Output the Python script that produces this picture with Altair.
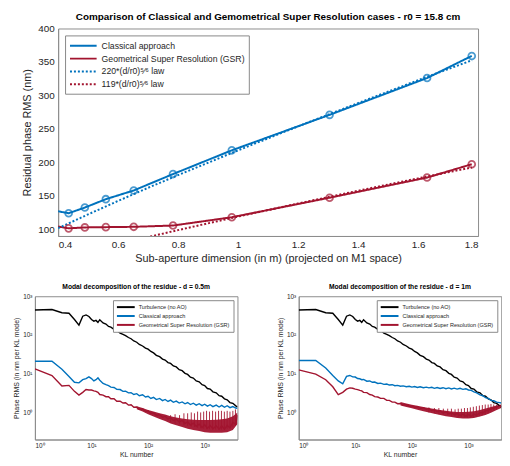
import altair as alt
import pandas as pd

FONT = "Liberation Sans"
BLUE = "#0072BD"
RED = "#A2142F"
BLACK = "#000000"
INK = "#262626"
FRAME = "#8c8c8c"

# ---------------- top panel data ----------------
top_series = ["Classical approach", "Geometrical Super Resolution (GSR)",
              "220*(d/r0)\u2075\u2044\u2076 law", "119*(d/r0)\u2075\u2044\u2076 law"]
sub_ap = [0.35, 0.435, 0.489, 0.559, 0.652, 0.783, 0.979, 1.305, 1.63, 1.779]
rms_classical = [131, 124, 132.5, 145, 158, 182.5, 218, 271, 326, 359]
rms_gsr = [108, 101.4, 102.8, 103.2, 103.7, 105.6, 118, 147.2, 177.3, 197.2]
law_d = [0.4, 0.5, 0.6, 0.7, 0.8, 1.0, 1.2, 1.4, 1.6, 1.78]
law_220 = [101.6, 122.3, 142.4, 162, 181, 218, 253.8, 288.6, 322.7, 352.6]
law_119 = [55.5, 66.8, 77.7, 88.4, 98.8, 119, 138.5, 157.6, 176.1, 192.4]
x_ticks_top = [0.4, 0.6, 0.8, 1.0, 1.2, 1.4, 1.6, 1.8]
y_ticks_top = [100, 150, 200, 250, 300, 350, 400]

# ---------------- bottom panels data ----------------
bottom_series = ["Turbulence (no AO)", "Classical approach", "Geometrical Super Resolution (GSR)"]
kl = [1, 2, 3, 4, 5, 6, 7, 8, 9, 10,
      11, 12, 13, 14, 16, 18, 20, 22, 25, 28,
      32, 36, 40, 45, 50, 56, 63, 70, 80, 90,
      100, 112, 125, 140, 160, 180, 200, 225, 250, 280,
      315, 355, 400, 450, 500, 560, 630, 710, 800, 900,
      1000, 1120, 1250, 1400, 1600, 1800, 2000, 2240, 2500, 2800,
      3150, 3550, 3800]
turbulence = [440, 455, 375, 365, 250, 180, 305, 330, 300, 250,
              228, 238, 212, 248, 205, 192, 166, 160, 140, 132,
              112, 104, 96, 86, 80, 70, 65, 57, 52, 46,
              43, 37.5, 34.5, 29.8, 27.5, 23.8, 22.5, 19.4, 18.4, 15.9,
              15.0, 12.7, 12.0, 10.2, 9.6, 8.1, 7.7, 6.5, 6.2, 5.2,
              4.95, 4.15, 4.0, 3.4, 3.2, 2.7, 2.62, 2.25, 2.12, 1.8,
              1.72, 1.48, 1.38]
classical_05 = [21, 21, 13, 8.5, 6, 5.8, 7, 7.5, 8.3, 7.5,
                6.5, 7, 7.8, 6.8, 5.6, 5.2, 4.9, 4.5, 4.4, 3.95,
                3.9, 3.5, 3.55, 3.2, 3.25, 2.9, 3.05, 2.7, 2.85, 2.5,
                2.62, 2.3, 2.45, 2.15, 2.3, 2.02, 2.16, 1.92, 2.08, 1.83,
                1.96, 1.75, 1.87, 1.67, 1.8, 1.6, 1.73, 1.54, 1.68, 1.5,
                1.63, 1.45, 1.58, 1.41, 1.55, 1.38, 1.52, 1.36, 1.49, 1.33,
                1.42, 1.3, 1.27]
gsr_05 = [13.3, 9, 4.8, 5, 3.5, 2.8, 3.3, 3.9, 3.8, 3.8,
          3.6, 3.5, 3.3, 2.9, 2.8, 2.55, 2.55, 2.25, 2.25, 1.95,
          1.95, 1.75, 1.78, 1.55, 1.58, 1.36, 1.38, 1.2, 1.24, 1.06,
          1.1, 0.94, 0.98, 0.84, 0.88, 0.75, 0.8, 0.68, 0.73, 0.62,
          0.67, 0.57, 0.62, 0.52, 0.57, 0.47, 0.53, 0.44, 0.5, 0.41,
          0.48, 0.39, 0.46, 0.38, 0.45, 0.37, 0.45, 0.37, 0.46, 0.4,
          0.55, 0.5, 0.85]
classical_1 = [22, 22, 14, 9, 6.5, 5.5, 8.5, 9, 8.3, 8.2,
               7.5, 7.4, 7.0, 7.1, 6.4, 6.5, 6.0, 6.1, 5.6, 5.7,
               5.3, 5.4, 5.1, 5.2, 4.9, 5.0, 4.75, 4.85, 4.6, 4.75,
               4.5, 4.65, 4.4, 4.6, 4.35, 4.5, 4.3, 4.45, 4.2, 4.4,
               4.15, 4.35, 4.1, 4.3, 4.05, 4.25, 4.0, 4.2, 3.95, 4.1,
               3.8, 3.7, 3.4, 3.2, 2.85, 2.7, 2.4, 2.3, 2.05, 2.0,
               1.85, 1.8, 1.75]
gsr_1 = [12.6, 9.8, 7, 4.6, 2.9, 3.3, 4, 4.3, 4.2, 4.0,
         3.9, 3.7, 3.6, 3.3, 3.25, 2.9, 2.8, 2.55, 2.5, 2.3,
         2.3, 2.05, 2.05, 1.85, 1.85, 1.68, 1.7, 1.55, 1.58, 1.45,
         1.48, 1.36, 1.4, 1.28, 1.32, 1.2, 1.25, 1.12, 1.17, 1.05,
         1.1, 0.98, 1.03, 0.93, 0.98, 0.88, 0.93, 0.84, 0.9, 0.8,
         0.88, 0.8, 0.9, 0.85, 0.98, 0.98, 1.1, 1.12, 1.25, 1.3,
         1.4, 1.45, 1.45]

band_kl = [63, 80, 100, 125, 160, 200, 250, 315, 400, 500,
           630, 800, 1000, 1250, 1600, 2000, 2500, 3150, 3800]
gsr_05_lo = [1.2, 1.05, 0.9, 0.78, 0.68, 0.6, 0.52, 0.47, 0.42, 0.38,
             0.35, 0.33, 0.31, 0.3, 0.3, 0.3, 0.31, 0.35, 0.5]
gsr_05_hi = [1.45, 1.3, 1.15, 1.05, 0.95, 0.88, 0.8, 0.74, 0.7, 0.67,
             0.65, 0.64, 0.64, 0.64, 0.65, 0.67, 0.7, 0.8, 1.0]
gsr_1_lo = [1.5, 1.38, 1.28, 1.18, 1.08, 1.0, 0.92, 0.86, 0.8, 0.76,
            0.72, 0.7, 0.7, 0.72, 0.78, 0.86, 0.98, 1.15, 1.3]
gsr_1_hi = [1.85, 1.7, 1.58, 1.48, 1.38, 1.3, 1.22, 1.16, 1.1, 1.06,
            1.03, 1.02, 1.04, 1.08, 1.16, 1.26, 1.38, 1.5, 1.6]

spike_05_kl = [250, 300, 360, 430, 500, 580, 660, 750, 850, 960, 1080,
               1220, 1380, 1560, 1760, 1980, 2230, 2500, 2800, 3150, 3500]
spike_05_top = [0.85, 0.9, 0.85, 0.95, 0.95, 1.0, 0.95, 1.05, 1.0, 1.05, 1.1,
                1.05, 1.1, 1.05, 1.1, 1.1, 1.05, 1.1, 1.05, 1.1, 1.2]
spike_05_base = [0.55, 0.52, 0.5, 0.47, 0.45, 0.43, 0.42, 0.4, 0.39, 0.38, 0.37,
                 0.37, 0.36, 0.36, 0.36, 0.36, 0.37, 0.38, 0.4, 0.42, 0.45]
spike_1_kl = [200, 250, 300, 360, 430, 500, 580, 660, 750, 850, 960,
              1080, 1220, 1380, 1560, 1760, 1980, 2230, 2500, 2800, 3150]
spike_1_top = [1.35, 1.3, 1.3, 1.25, 1.25, 1.25, 1.2, 1.25, 1.25, 1.3, 1.3,
               1.35, 1.4, 1.45, 1.5, 1.55, 1.6, 1.6, 1.65, 1.6, 1.6]
spike_1_base = [1.0, 0.95, 0.9, 0.88, 0.85, 0.82, 0.8, 0.78, 0.76, 0.75, 0.74,
                0.74, 0.75, 0.77, 0.8, 0.85, 0.9, 0.95, 1.05, 1.1, 1.2]

log_ticks = [1, 10, 100, 1000]
SUP = ("datum.value == 1 ? '10\u2070' : datum.value == 10 ? '10\u00b9' : "
       "datum.value == 100 ? '10\u00b2' : '10\u00b3'")

# legend symbols: horizontal strokes starting at the symbol's left edge
TOP_SYMBOL = "M-1,0H3.9"
BOT_SYMBOL = "M-1,0H5"

# ---------------- top chart ----------------
rows = []
for d, v in zip(sub_ap, rms_classical):
    rows.append({"d": d, "rms": v, "case": top_series[0]})
for d, v in zip(sub_ap, rms_gsr):
    rows.append({"d": d, "rms": v, "case": top_series[1]})
for d, v in zip(law_d, law_220):
    rows.append({"d": d, "rms": v, "case": top_series[2]})
for d, v in zip(law_d, law_119):
    rows.append({"d": d, "rms": v, "case": top_series[3]})
top_df = pd.DataFrame(rows)
pts_df = top_df[top_df["case"].isin(top_series[:2])]

top_legend = alt.Legend(title=None, orient="top-left", offset=7, symbolType=TOP_SYMBOL,
                        symbolSize=121, symbolStrokeWidth=2, labelFontSize=8.8,
                        labelColor=INK, rowPadding=1, padding=4, fillColor="white",
                        strokeColor="#888888", labelLimit=300, labelOffset=20)
xs_top = alt.Scale(domain=[0.4, 1.8], nice=False, zero=False)
ys_top = alt.Scale(domain=[90, 400], nice=False, zero=False)
x_top = alt.X("d:Q", scale=xs_top,
              axis=alt.Axis(values=x_ticks_top, format="~g",
                            title="Sub-aperture dimension (in m) (projected on M1 space)",
                            labelFontSize=10, titleFontSize=11, labelPadding=4, titlePadding=3))
y_top = alt.Y("rms:Q", scale=ys_top,
              axis=alt.Axis(values=y_ticks_top, title="Residual phase RMS (nm)",
                            labelFontSize=10, titleFontSize=11, labelPadding=4, titlePadding=5))
top_color_scale = alt.Scale(domain=top_series, range=[BLUE, RED, BLUE, RED])
color_top = alt.Color("case:N", scale=top_color_scale, legend=top_legend)
dash_top = alt.StrokeDash("case:N",
                          scale=alt.Scale(domain=top_series, range=[[1, 0], [1, 0], [2, 2], [2, 2]]),
                          legend=top_legend)

top_lines = alt.Chart(top_df).mark_line(strokeWidth=2, clip=True).encode(
    x=x_top, y=y_top, color=color_top, strokeDash=dash_top)
top_points = alt.Chart(pts_df).mark_point(shape="circle", filled=False, size=48,
                                          strokeWidth=1.8, clip=True).encode(
    x=x_top, y=y_top, color=alt.Color("case:N", scale=top_color_scale, legend=None))
# invisible blank text that only reserves room left of the top panel
spacer = alt.Chart(pd.DataFrame({"blank": [" "]})).mark_text(align="left", fontSize=4).encode(
    x=alt.value(-50), y=alt.value(100), text="blank:N")
top = alt.layer(top_lines, top_points, spacer).properties(
    width=425, height=210,
    title=alt.TitleParams("Comparison of Classical and Gemometrical Super Resolution cases - r0 = 15.8 cm",
                          fontSize=10, fontWeight="bold", color=BLACK, offset=2))

# ---------------- bottom charts ----------------
def panel(title, blue, red, lo, hi, sp_kl, sp_top, sp_base):
    rows = []
    for s, vals in zip(bottom_series, [turbulence, blue, red]):
        for k, v in zip(kl, vals):
            rows.append({"kl": k, "rms": v, "series": s})
    lines_df = pd.DataFrame(rows)
    band_df = pd.DataFrame({"kl": band_kl, "lo": lo, "hi": hi})
    spikes_df = pd.DataFrame({"kl": sp_kl, "top": sp_top, "base": sp_base})

    xs = alt.Scale(type="log", domain=[1, 3800], nice=False)
    ys = alt.Scale(type="log", domain=[0.2, 1000], nice=False)
    xaxis = alt.Axis(values=log_ticks, labelExpr=SUP, title="KL number",
                     labelFontSize=6.5, titleFontSize=7, labelPadding=3, titlePadding=2)
    yaxis = alt.Axis(values=log_ticks, labelExpr=SUP, title="Phase RMS (in nm per KL mode)",
                     labelFontSize=6.5, titleFontSize=7, labelPadding=3, titlePadding=3)
    leg = alt.Legend(title=None, orient="top-right", offset=4, symbolType=BOT_SYMBOL,
                     symbolSize=36, symbolStrokeWidth=2, labelFontSize=5.6,
                     labelColor=INK, rowPadding=1, padding=3, fillColor="white",
                     strokeColor="#888888", labelLimit=250, labelOffset=15)

    band = alt.Chart(band_df).mark_area(color=RED, opacity=0.95, clip=True).encode(
        x=alt.X("kl:Q", scale=xs, axis=xaxis),
        y=alt.Y("lo:Q", scale=ys, axis=yaxis),
        y2="hi:Q")
    spikes = alt.Chart(spikes_df).mark_rule(color=RED, strokeWidth=0.9, clip=True).encode(
        x=alt.X("kl:Q", scale=xs, axis=xaxis),
        y=alt.Y("base:Q", scale=ys, axis=yaxis),
        y2="top:Q")
    lines = alt.Chart(lines_df).mark_line(strokeWidth=1.4, clip=True).encode(
        x=alt.X("kl:Q", scale=xs, axis=xaxis),
        y=alt.Y("rms:Q", scale=ys, axis=yaxis),
        color=alt.Color("series:N", scale=alt.Scale(domain=bottom_series,
                                                    range=[BLACK, BLUE, RED]), legend=leg))
    return alt.layer(band, spikes, lines).properties(
        width=205, height=145,
        title=alt.TitleParams(title, fontSize=6.8, fontWeight="bold", color=BLACK, offset=3))


left = panel("Modal decomposition of the residue - d = 0.5m", classical_05, gsr_05,
             gsr_05_lo, gsr_05_hi, spike_05_kl, spike_05_top, spike_05_base)
right = panel("Modal decomposition of the residue - d = 1m", classical_1, gsr_1,
              gsr_1_lo, gsr_1_hi, spike_1_kl, spike_1_top, spike_1_base)
bottom = alt.hconcat(left, right, spacing=38).resolve_scale(color="independent")

chart = alt.vconcat(top, bottom, spacing=18, center=True).resolve_scale(
    color="independent", strokeDash="independent"
).properties(
    padding={"left": 0, "top": 0, "right": 0, "bottom": 0}
).configure(font=FONT).configure_view(stroke=FRAME, strokeWidth=1).configure_axis(
    grid=False, ticks=False, domainColor=FRAME, labelColor=INK, titleColor=INK,
    titleFontWeight="normal", labelFont=FONT, titleFont=FONT
).configure_legend(labelFont=FONT)

chart.save("out.html", embed_options={"renderer": "svg", "actions": False})
